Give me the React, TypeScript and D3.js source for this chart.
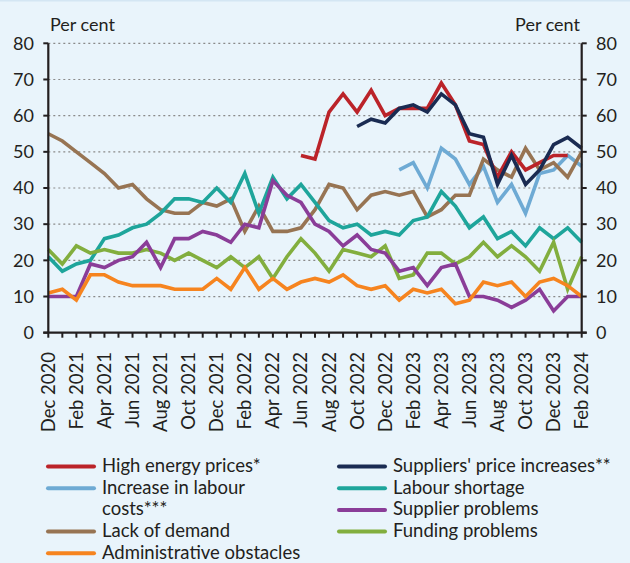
import React from "react";
import * as d3 from "d3";

const months = [
  "Dec 2020","Jan 2021","Feb 2021","Mar 2021","Apr 2021","May 2021","Jun 2021","Jul 2021","Aug 2021","Sep 2021","Oct 2021","Nov 2021",
  "Dec 2021","Jan 2022","Feb 2022","Mar 2022","Apr 2022","May 2022","Jun 2022","Jul 2022","Aug 2022","Sep 2022","Oct 2022","Nov 2022",
  "Dec 2022","Jan 2023","Feb 2023","Mar 2023","Apr 2023","May 2023","Jun 2023","Jul 2023","Aug 2023","Sep 2023","Oct 2023","Nov 2023",
  "Dec 2023","Jan 2024","Feb 2024",
];
const yTicks = [0, 10, 20, 30, 40, 50, 60, 70, 80];

const N = null;
const highEnergy = [N,N,N,N,N,N,N,N,N,N,N,N,N,N,N,N,N,N,49,48,61,66,61,67,60,62,62,62,69,63,53,52,43,50,45,47,49,49,N];
const suppliersPrice = [N,N,N,N,N,N,N,N,N,N,N,N,N,N,N,N,N,N,N,N,N,N,57,59,58,62,63,61,66,63,55,54,41,49,41,45,52,54,51];
const labourCosts = [N,N,N,N,N,N,N,N,N,N,N,N,N,N,N,N,N,N,N,N,N,N,N,N,N,45,47,40,51,48,41,46,36,41,33,44,45,49,46];
const labourShortage = [21,17,19,20,26,27,29,30,33,37,37,36,40,36,44,33,43,37,41,36,31,29,30,27,28,27,31,32,39,35,29,32,26,28,24,29,26,29,25];
const lackOfDemand = [55,53,50,47,44,40,41,37,34,33,33,36,35,37,28,35,28,28,29,34,41,40,34,38,39,38,39,32,34,38,38,48,45,43,51,45,47,43,50];
const supplierProblems = [10,10,10,19,18,20,21,25,18,26,26,28,27,25,30,29,42,38,36,30,28,24,27,23,22,17,18,13,18,19,10,10,9,7,9,12,6,10,10];
const fundingProblems = [23,19,24,22,23,22,22,23,22,20,22,20,18,21,18,21,15,21,26,22,17,23,22,21,24,15,16,22,22,19,21,25,21,24,21,17,25,12,21];
const adminObstacles = [11,12,9,16,16,14,13,13,13,12,12,12,15,12,18,12,15,12,14,15,14,16,13,12,13,9,12,11,12,8,9,14,13,14,10,14,15,13,10];

const series = [
  { name: "Increase in labour costs***", values: labourCosts, color: "#6eaad4" },
  { name: "Lack of demand", values: lackOfDemand, color: "#977453" },
  { name: "Labour shortage", values: labourShortage, color: "#1ea59b" },
  { name: "Funding problems", values: fundingProblems, color: "#82ae3e" },
  { name: "Supplier problems", values: supplierProblems, color: "#8a3d98" },
  { name: "Administrative obstacles", values: adminObstacles, color: "#f6841f" },
  { name: "High energy prices*", values: highEnergy, color: "#bb2329" },
  { name: "Suppliers' price increases**", values: suppliersPrice, color: "#1a2b52" },
];

const legendCol1 = [
  { lines: ["High energy prices*"], color: "#bb2329" },
  { lines: ["Increase in labour", "costs***"], color: "#6eaad4" },
  { lines: ["Lack of demand"], color: "#977453" },
  { lines: ["Administrative obstacles"], color: "#f6841f" },
];
const legendCol2 = [
  { lines: ["Suppliers' price increases**"], color: "#1a2b52" },
  { lines: ["Labour shortage"], color: "#1ea59b" },
  { lines: ["Supplier problems"], color: "#8a3d98" },
  { lines: ["Funding problems"], color: "#82ae3e" },
];

const W = 630, H = 563;
const FONT = "Lato, 'Open Sans', sans-serif";
const TXT = "#231f20";

export default function App() {
  const x = d3.scaleLinear().domain([0, months.length - 1]).range([48.3, 581.7]);
  const y = d3.scaleLinear().domain([0, 80]).range([332.7, 43.3]);
  const line = d3
    .line<number | null>()
    .defined((d) => d !== null)
    .x((_, i) => x(i))
    .y((d) => y(d as number));

  const rowY = (r: number) => 465.5 + r * 21.7;
  const renderLegend = (items: typeof legendCol1, x0: number) => {
    let r = 0;
    return items.map((it, k) => {
      const r0 = r;
      r += it.lines.length;
      return (
        <g key={k}>
          <line x1={x0} x2={x0 + 46} y1={rowY(r0) + 1} y2={rowY(r0) + 1} stroke={it.color} strokeWidth={4} strokeLinecap="round" />
          {it.lines.map((t, j) => (
            <text key={j} x={x0 + 54} y={rowY(r0 + j)} dy="0.35em" fontSize={18.5} fill={TXT} fontFamily={FONT}>
              {t}
            </text>
          ))}
        </g>
      );
    });
  };

  return (
    <div style={{ position: "fixed", left: 0, top: 0, width: W, height: H }}>
      <svg width={W} height={H} style={{ display: "block" }}>
        <rect x={0} y={0} width={W} height={H} fill="#e9f4fb" />
        <rect x={0} y={0} width={W} height={1.5} fill="#d4e6f3" />
        {yTicks.filter((t) => t > 0).map((t) => (
          <line key={t} x1={x(0)} x2={x(months.length - 1)} y1={y(t)} y2={y(t)} stroke="#8a8a8a" strokeWidth={1.2} strokeDasharray="2,3" />
        ))}
        {series.map((s) => (
          <path key={s.name} d={line(s.values) || ""} fill="none" stroke={s.color} strokeWidth={3.6} strokeLinejoin="miter" />
        ))}
        <line x1={x(0)} x2={x(0)} y1={y(80)} y2={y(0)} stroke={TXT} strokeWidth={2.2} />
        <line x1={x(months.length - 1)} x2={x(months.length - 1)} y1={y(80)} y2={y(0)} stroke={TXT} strokeWidth={2.2} />
        <line x1={x(0) - 5} x2={x(months.length - 1) + 5} y1={y(0)} y2={y(0)} stroke={TXT} strokeWidth={2.2} />
        {yTicks.map((t) => (
          <g key={t}>
            <line x1={x(0) - 5} x2={x(0)} y1={y(t)} y2={y(t)} stroke={TXT} strokeWidth={2} />
            <line x1={x(months.length - 1)} x2={x(months.length - 1) + 5} y1={y(t)} y2={y(t)} stroke={TXT} strokeWidth={2} />
            <text x={34} y={y(t)} dy="0.35em" textAnchor="end" fontSize={18} fill={TXT} fontFamily={FONT}>{t}</text>
            <text x={596} y={y(t)} dy="0.35em" textAnchor="start" fontSize={18} fill={TXT} fontFamily={FONT}>{t}</text>
          </g>
        ))}
        {months.map((m, i) => (
          <line key={m} x1={x(i)} x2={x(i)} y1={y(0)} y2={y(0) + 5} stroke={TXT} strokeWidth={2} />
        ))}
        {months.map((m, i) =>
          i % 2 === 0 ? (
            <text
              key={"l" + m}
              transform={`translate(${x(i)},${352}) rotate(-90)`}
              textAnchor="end"
              dy="0.35em"
              fontSize={18.5}
              fill={TXT}
              fontFamily={FONT}
            >
              {m}
            </text>
          ) : null
        )}
        <text x={50} y={31} fontSize={18} fill={TXT} fontFamily={FONT}>Per cent</text>
        <text x={580} y={31} textAnchor="end" fontSize={18} fill={TXT} fontFamily={FONT}>Per cent</text>
        {renderLegend(legendCol1, 48)}
        {renderLegend(legendCol2, 339)}
      </svg>
    </div>
  );
}
